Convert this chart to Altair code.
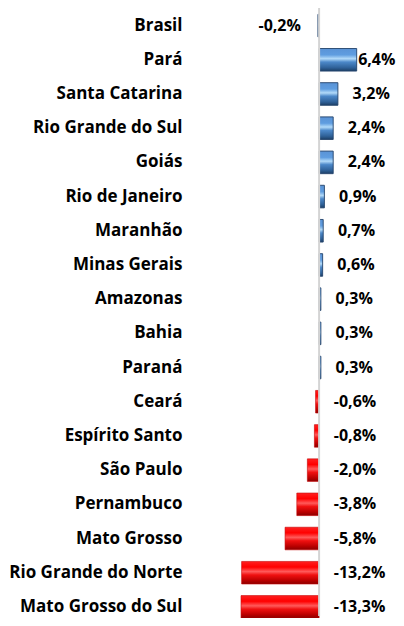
import altair as alt
import pandas as pd

categories = ["Brasil", "Pará", "Santa Catarina", "Rio Grande do Sul", "Goiás",
              "Rio de Janeiro", "Maranhão", "Minas Gerais", "Amazonas", "Bahia",
              "Paraná", "Ceará", "Espírito Santo", "São Paulo", "Pernambuco",
              "Mato Grosso", "Rio Grande do Norte", "Mato Grosso do Sul"]
values = [-0.2, 6.4, 3.2, 2.4, 2.4, 0.9, 0.7, 0.6, 0.3, 0.3, 0.3,
          -0.6, -0.8, -2.0, -3.8, -5.8, -13.2, -13.3]
labels = [f"{v:.1f}%".replace(".", ",") for v in values]

df = pd.DataFrame({"cat": categories, "v": values, "lab": labels})

FONT = "Open Sans"

blue = alt.Gradient(
    gradient="linear", x1=0, x2=0, y1=0, y2=1,
    stops=[
        alt.GradientStop(color="#5a93d6", offset=0),
        alt.GradientStop(color="#5f9de0", offset=0.28),
        alt.GradientStop(color="#b2daf9", offset=0.45),
        alt.GradientStop(color="#4c88c9", offset=0.6),
        alt.GradientStop(color="#2f6198", offset=0.85),
        alt.GradientStop(color="#1d3f66", offset=1),
    ],
)
red = alt.Gradient(
    gradient="linear", x1=0, x2=0, y1=0, y2=1,
    stops=[
        alt.GradientStop(color="#ff2020", offset=0),
        alt.GradientStop(color="#ff0000", offset=0.25),
        alt.GradientStop(color="#ff5a5a", offset=0.45),
        alt.GradientStop(color="#f01010", offset=0.6),
        alt.GradientStop(color="#b80000", offset=0.85),
        alt.GradientStop(color="#8a0000", offset=1),
    ],
)

xs = alt.Scale(domain=[-14.5, 8.5], nice=False, zero=False)
ys = alt.Scale(domain=categories, paddingInner=0.34, paddingOuter=0.17, range=[0.5, 616])

base = alt.Chart(df)

y_enc = alt.Y("cat:N", scale=ys, sort=categories, title=None,
              axis=alt.Axis(ticks=False, domain=False, labelPadding=52,
                            labelFont=FONT, labelFontSize=17, labelFontWeight="bold",
                            labelColor="#000000", labelLimit=400, grid=False))

bars_pos = base.transform_filter("datum.v >= 0 || datum.cat == 'Brasil'").mark_bar(
    color=blue, stroke="#23436b", strokeWidth=0.9
).encode(
    x=alt.X("v:Q", scale=xs, axis=None),
    x2=alt.datum(0),
    y=y_enc,
)

bars_neg = base.transform_filter("datum.v < 0 && datum.cat != 'Brasil'").mark_bar(
    color=red, stroke="#c40000", strokeWidth=0.6
).encode(
    x=alt.X("v:Q", scale=xs, axis=None),
    x2=alt.datum(0),
    y=alt.Y("cat:N", scale=ys, sort=categories),
)

zero = base.mark_rule(color="#d4d4d4", strokeWidth=2).encode(
    x=alt.X("z:Q", scale=xs, axis=None)
).transform_calculate(z="0").transform_aggregate(z="min(z)")

lab_brasil = base.transform_filter("datum.cat == 'Brasil'").mark_text(
    align="right", baseline="middle", dx=-17, font=FONT, fontSize=16,
    fontWeight="bold", color="#000000"
).encode(
    x=alt.X("v:Q", scale=xs, axis=None),
    y=alt.Y("cat:N", scale=ys, sort=categories),
    text="lab:N",
)

lab_other = base.transform_filter("datum.cat != 'Brasil'").transform_calculate(
    lx="min(max(datum.v, 0) + 2.5, 6.65)"
).mark_text(
    align="left", baseline="middle", font=FONT, fontSize=16,
    fontWeight="bold", color="#000000"
).encode(
    x=alt.X("lx:Q", scale=xs, axis=None),
    y=alt.Y("cat:N", scale=ys, sort=categories),
    text="lab:N",
)

chart = alt.layer(bars_pos, bars_neg, zero, lab_brasil, lab_other).properties(
    width=135,
    height=608,
    autosize=alt.AutoSizeParams(type="none"),
    padding={"left": 226, "top": 0, "right": 27, "bottom": 2},
    background="white",
).configure_view(stroke=None)

chart.save("out.html", embed_options={"renderer": "svg", "actions": False})
